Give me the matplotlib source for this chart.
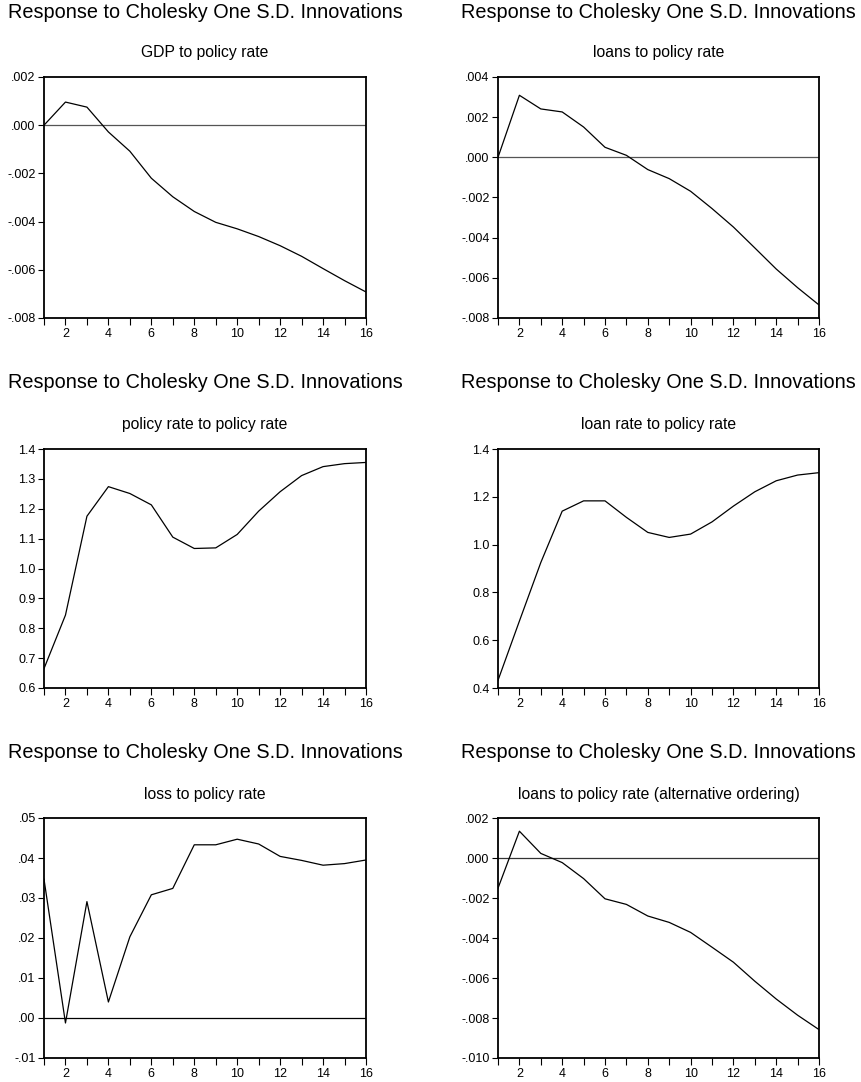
import matplotlib
matplotlib.use("Agg")

import numpy as np
import matplotlib.pyplot as plt
from matplotlib.ticker import FuncFormatter, MultipleLocator

plt.rcParams["font.family"] = ["Liberation Sans", "DejaVu Sans"]

horizon = list(range(1, 17))

gdp = [0.0, 0.00096, 0.00075, -0.00028, -0.00108, -0.0022, -0.00297, -0.00358,
       -0.00403, -0.0043, -0.00462, -0.005, -0.00544, -0.00595, -0.00645, -0.00692]
loans = [0.0, 0.00309, 0.00241, 0.00226, 0.00151, 0.0005, 0.0001, -0.00061,
         -0.00106, -0.00169, -0.00255, -0.00347, -0.00451, -0.00556, -0.00649, -0.00735]
policy = [0.665, 0.844, 1.175, 1.274, 1.251, 1.213, 1.105, 1.067,
          1.069, 1.114, 1.192, 1.257, 1.311, 1.341, 1.351, 1.355]
loan_rate = [0.432, 0.68, 0.925, 1.140, 1.183, 1.183, 1.114, 1.051,
             1.030, 1.044, 1.095, 1.161, 1.221, 1.267, 1.291, 1.301]
loss = [0.0347, -0.00125, 0.0291, 0.0040, 0.0203, 0.0308, 0.0324, 0.0433,
        0.0433, 0.0447, 0.0435, 0.0404, 0.0394, 0.0382, 0.0386, 0.0395]
loans_alt = [-0.00151, 0.00134, 0.00023, -0.00023, -0.00103, -0.00204, -0.00232, -0.0029,
             -0.00322, -0.00372, -0.00446, -0.00521, -0.00616, -0.00705, -0.00786, -0.00858]

MAIN_TITLE = "Response to Cholesky One S.D. Innovations"

# (series, subtitle, ylim, ystep, decimals, zero line colour)
panels = [
    (gdp, "GDP to policy rate", (-0.008, 0.002), 0.002, 3, "#555555"),
    (loans, "loans to policy rate", (-0.008, 0.004), 0.002, 3, "#555555"),
    (policy, "policy rate to policy rate", (0.6, 1.4), 0.1, 1, None),
    (loan_rate, "loan rate to policy rate", (0.4, 1.4), 0.2, 1, None),
    (loss, "loss to policy rate", (-0.01, 0.05), 0.01, 2, "black"),
    (loans_alt, "loans to policy rate (alternative ordering)", (-0.010, 0.002), 0.002, 3, "#333333"),
]

W, H = 862, 1082
col_x = [(44, 366), (498, 819)]
row_y = [(77, 318), (449, 688), (818, 1058)]
title_y = [12, 382, 752]
sub_y = [53, 425, 795]


def eviews_fmt(dec):
    # EViews style: drop the leading zero for small values (.002, -.01)
    def f(v, pos):
        s = f"{v:.{dec}f}"
        if abs(v) < 1 and dec >= 2:
            s = s.replace("0.", ".", 1)
        return s
    return FuncFormatter(f)


fig = plt.figure(figsize=(W / 100, H / 100), dpi=100, facecolor="white")

for i, (vals, sub, ylim, ystep, dec, zcol) in enumerate(panels):
    r, c = divmod(i, 2)
    x0, x1 = col_x[c]
    y0, y1 = row_y[r]
    ax = fig.add_axes([x0 / W, 1 - y1 / H, (x1 - x0) / W, (y1 - y0) / H])

    if zcol:
        ax.axhline(0, color=zcol, lw=0.9, zorder=1)
    ax.plot(horizon, vals, color="black", lw=0.9, zorder=2)

    ax.set_xlim(1, 16)
    ax.set_ylim(*ylim)
    ax.xaxis.set_major_locator(MultipleLocator(2))
    ax.xaxis.set_minor_locator(MultipleLocator(1))
    ax.yaxis.set_major_locator(MultipleLocator(ystep))
    ax.yaxis.set_major_formatter(eviews_fmt(dec))

    ax.tick_params(axis="both", which="both", direction="out", top=False, right=False,
                   labelsize=9, width=0.8, colors="black", pad=2)
    ax.tick_params(axis="x", which="both", length=5)
    ax.tick_params(axis="y", which="major", length=4)
    for sp in ax.spines.values():
        sp.set_linewidth(1.3)

    cx = (x0 + x1) / 2 / W
    fig.text(cx, 1 - title_y[r] / H, MAIN_TITLE, ha="center", va="center", fontsize=14.3)
    fig.text(cx, 1 - sub_y[r] / H, sub, ha="center", va="center", fontsize=11.3)

fig.savefig("out.png", dpi=100, facecolor="white")
